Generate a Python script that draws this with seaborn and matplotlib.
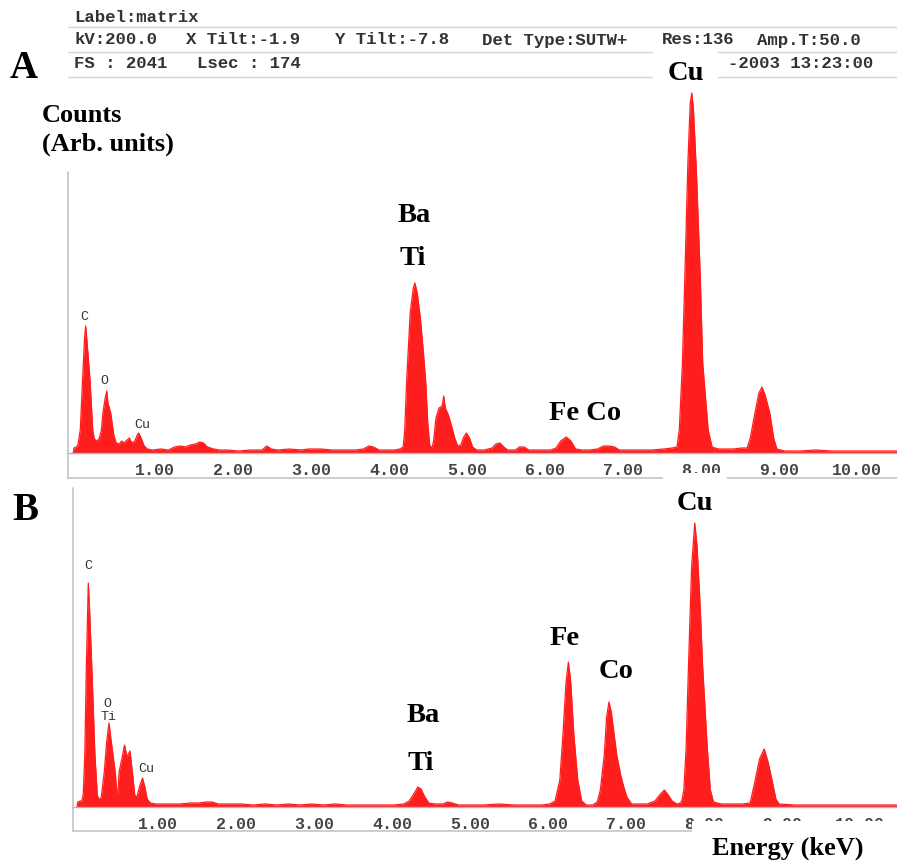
import matplotlib
matplotlib.use("Agg")
import matplotlib.pyplot as plt
import seaborn as sns
import pandas as pd
from matplotlib.transforms import ScaledTranslation
from matplotlib.lines import Line2D
from matplotlib.patches import Rectangle

# ---------------- data ----------------
# Panel A: energy (keV) and counts (arb. units)
energy_a = [0.08, 0.09, 0.12, 0.14, 0.17, 0.20, 0.225, 0.24, 0.26, 0.295, 0.33, 0.35,
            0.38, 0.41, 0.44, 0.46, 0.49, 0.51, 0.525, 0.56, 0.60, 0.63, 0.67, 0.70,
            0.73, 0.77, 0.80, 0.83, 0.87, 0.90, 0.92, 0.95, 0.99, 1.03, 1.10, 1.20,
            1.30, 1.38, 1.45, 1.52, 1.58, 1.65, 1.70, 1.75, 1.80, 1.88, 1.95, 2.05,
            2.20, 2.35, 2.50, 2.56, 2.62, 2.70, 2.85, 3.00, 3.10, 3.25, 3.40, 3.55,
            3.70, 3.80, 3.87, 3.93, 4.00, 4.10, 4.20, 4.27, 4.31, 4.33, 4.355, 4.40,
            4.44, 4.46, 4.49, 4.53, 4.57, 4.60, 4.625, 4.65, 4.68, 4.70, 4.73, 4.77,
            4.81, 4.83, 4.85, 4.89, 4.92, 4.97, 5.01, 5.05, 5.08, 5.12, 5.16, 5.20,
            5.25, 5.35, 5.45, 5.50, 5.55, 5.60, 5.65, 5.75, 5.80, 5.86, 5.92, 6.00,
            6.10, 6.20, 6.27, 6.33, 6.40, 6.46, 6.52, 6.60, 6.70, 6.80, 6.88, 6.95,
            7.02, 7.08, 7.20, 7.35, 7.50, 7.65, 7.76, 7.82, 7.85, 7.89, 7.92, 7.96,
            7.99, 8.01, 8.03, 8.07, 8.12, 8.15, 8.22, 8.27, 8.35, 8.45, 8.55, 8.65,
            8.72, 8.76, 8.82, 8.87, 8.91, 8.95, 9.01, 9.06, 9.10, 9.20, 9.40, 9.60,
            9.80, 10.00, 10.30, 10.64]
counts_a = [0, 5, 6, 8, 23, 73, 115, 127, 108, 73, 23, 14,
            12, 14, 22, 40, 55, 62, 50, 40, 18, 10, 9, 12,
            10, 13, 15, 10, 12, 18, 20, 15, 7, 4, 3, 4,
            3, 6, 7, 6, 8, 9, 11, 10, 6, 4, 3, 3,
            2, 3, 3, 7, 4, 3, 4, 3, 4, 4, 3, 3,
            3, 4, 7, 6, 3, 3, 3, 4, 6, 23, 73, 140,
            165, 170, 160, 135, 100, 70, 30, 8, 5, 12, 35, 45,
            47, 57, 45, 38, 30, 15, 7, 8, 15, 20, 15, 6,
            3, 3, 5, 9, 10, 6, 3, 3, 6, 6, 3, 3,
            3, 3, 5, 12, 16, 12, 4, 3, 3, 4, 7, 7,
            6, 3, 3, 3, 3, 4, 5, 6, 23, 90, 173, 290,
            350, 360, 345, 280, 173, 90, 23, 6, 4, 4, 4, 5,
            5, 15, 40, 60, 66, 58, 40, 15, 4, 2, 2, 3,
            2, 2, 2, 2]

# Panel B
energy_b = [0.09, 0.10, 0.13, 0.15, 0.17, 0.19, 0.21, 0.235, 0.25, 0.28, 0.32, 0.35,
            0.37, 0.40, 0.44, 0.47, 0.50, 0.53, 0.58, 0.60, 0.615, 0.63, 0.67, 0.70,
            0.73, 0.77, 0.80, 0.83, 0.86, 0.89, 0.93, 0.96, 0.99, 1.03, 1.10, 1.25,
            1.40, 1.55, 1.65, 1.75, 1.82, 1.90, 2.05, 2.20, 2.35, 2.50, 2.65, 2.80,
            2.95, 3.10, 3.25, 3.40, 3.55, 3.70, 3.85, 4.00, 4.15, 4.28, 4.35, 4.40,
            4.46, 4.50, 4.55, 4.60, 4.68, 4.78, 4.84, 4.90, 4.98, 5.10, 5.30, 5.50,
            5.70, 5.90, 6.05, 6.15, 6.22, 6.28, 6.32, 6.36, 6.39, 6.42, 6.46, 6.51,
            6.56, 6.62, 6.70, 6.76, 6.80, 6.85, 6.88, 6.91, 6.94, 6.98, 7.01, 7.06,
            7.10, 7.14, 7.20, 7.30, 7.40, 7.50, 7.56, 7.62, 7.67, 7.72, 7.78, 7.83,
            7.85, 7.87, 7.90, 7.93, 7.97, 8.01, 8.04, 8.08, 8.11, 8.17, 8.21, 8.25,
            8.35, 8.50, 8.62, 8.72, 8.78, 8.84, 8.90, 8.95, 9.00, 9.05, 9.09, 9.30,
            9.60, 9.90, 10.20, 10.60]
counts_b = [0, 5, 6, 6, 12, 52, 140, 224, 200, 140, 52, 12,
            8, 9, 35, 65, 84, 65, 35, 15, 14, 35, 50, 62,
            50, 56, 35, 12, 10, 20, 29, 20, 8, 4, 3, 3,
            3, 4, 4, 5, 5, 3, 3, 3, 2, 3, 2, 3,
            2, 3, 2, 3, 2, 2, 2, 2, 2, 3, 6, 12,
            20, 18, 10, 4, 3, 3, 5, 4, 2, 2, 2, 3,
            2, 2, 2, 3, 6, 27, 72, 125, 145, 125, 72, 27,
            6, 2, 2, 5, 17, 52, 90, 105, 95, 70, 52, 32,
            20, 10, 3, 3, 3, 6, 12, 17, 12, 6, 3, 4,
            8, 17, 60, 142, 240, 284, 260, 200, 142, 60, 17, 5,
            3, 3, 3, 4, 25, 48, 58, 45, 27, 8, 3, 2,
            2, 2, 2, 2]

tick_values = [1, 2, 3, 4, 5, 6, 7, 8, 9, 10]
tick_labels = ["1.00", "2.00", "3.00", "4.00", "5.00", "6.00", "7.00", "8.00", "9.00", "10.00"]

header_tokens = [
    ("Label:matrix", 74, 17),
    ("kV:200.0", 74, 40), ("X Tilt:-1.9", 186, 40), ("Y Tilt:-7.8", 335, 40),
    ("Det Type:SUTW+", 482, 40), ("Res:136", 662, 40), ("Amp.T:50.0", 757, 40),
    ("FS : 2041", 74, 63), ("Lsec : 174", 197, 63), ("-2003 13:23:00", 728, 63),
]

# ---------------- figure ----------------
sns.set_style("white")
plt.rcParams["font.family"] = ["Liberation Serif", "DejaVu Serif"]

W, H = 897, 865
fig = plt.figure(figsize=(W / 100, H / 100), dpi=100)
fig.patch.set_facecolor("white")


def fx(x):
    return x / W


def fy(y):
    return 1 - y / H


RED = "#ff1e1e"
FRAME = "#c4c4ce"
MONO = ["Liberation Mono", "DejaVu Sans Mono"]
SERIF = ["Liberation Serif", "DejaVu Serif"]


def make_axes(left, right, top, bottom, xlim, ylim, energy, counts):
    ax = fig.add_axes([fx(left), fy(bottom), (right - left) / W, (bottom - top) / H])
    ax.set_facecolor("none")
    df = pd.DataFrame({"Energy": energy, "Counts": counts})
    sns.lineplot(data=df, x="Energy", y="Counts", color=RED, linewidth=0.9, ax=ax)
    ax.fill_between(df["Energy"], 0, df["Counts"], color=RED, linewidth=0)
    ax.set_xlim(*xlim)
    ax.set_ylim(*ylim)
    for s in ["left", "top", "right"]:
        ax.spines[s].set_visible(False)
    ax.spines["bottom"].set_position(("data", 0))
    ax.spines["bottom"].set_color("#b4b4be")
    ax.spines["bottom"].set_linewidth(1.0)
    ax.set_yticks([])
    ax.set_xticks(tick_values)
    ax.set_xticklabels(tick_labels, fontfamily=MONO, fontweight="bold",
                       fontsize=12, color="#444444")
    ax.tick_params(axis="x", length=3, width=0.8, color="#b4b4be", pad=4, direction="out")
    ax.set_xlabel("")
    ax.set_ylabel("")
    off = ScaledTranslation(10 / 100, 0, fig.dpi_scale_trans)
    for lab in ax.get_xticklabels():
        lab.set_transform(lab.get_transform() + off)
    return ax


axA = make_axes(67, 897, 85, 478, (0, 10.641), (-25, 368), energy_a, counts_a)
axB = make_axes(72, 897, 480, 831, (0.026, 10.603), (-24, 327), energy_b, counts_b)


def hline(x0, x1, y, color=FRAME, lw=1.2):
    fig.add_artist(Line2D([fx(x0), fx(x1)], [fy(y), fy(y)], transform=fig.transFigure,
                          color=color, linewidth=lw, zorder=2))


def vline(x, y0, y1, color=FRAME, lw=1.2):
    fig.add_artist(Line2D([fx(x), fx(x)], [fy(y0), fy(y1)], transform=fig.transFigure,
                          color=color, linewidth=lw, zorder=2))


def white_box(x0, y0, x1, y1):
    fig.add_artist(Rectangle((fx(x0), fy(y1)), (x1 - x0) / W, (y1 - y0) / H,
                             transform=fig.transFigure, facecolor="white",
                             edgecolor="none", zorder=3))


# header rules and frames
hline(68, 897, 27, color="#d4d4dc", lw=1.0)
hline(68, 897, 52, color="#d4d4dc", lw=1.0)
hline(68, 897, 77, color="#d4d4dc", lw=1.0)
vline(68, 172, 478)
hline(68, 897, 478)
vline(73, 488, 831)
hline(73, 897, 831)

# white label boxes pasted over the instrument printout
white_box(653, 46, 718, 89)
white_box(663, 473, 727, 516)
white_box(692, 821, 897, 865)


def ftext(x, y, s, **kw):
    kw.setdefault("zorder", 5)
    fig.text(fx(x), fy(y), s, **kw)


# header tokens
for s, x, y in header_tokens:
    ftext(x, y, s, ha="left", va="center", fontfamily=MONO, fontweight="bold",
          fontsize=12.5, color="#333333")

# panel letters and axis labels
big = dict(fontfamily=SERIF, fontweight="bold", color="black")
ftext(24, 78, "A", ha="center", va="baseline", fontsize=28, **big)
ftext(25, 520, "B", ha="center", va="baseline", fontsize=28, **big)
ftext(42, 122, "Counts", ha="left", va="baseline", fontsize=19, **big)
ftext(42, 151, "(Arb. units)", ha="left", va="baseline", fontsize=19, **big)
ftext(788, 855, "Energy (keV)", ha="center", va="baseline", fontsize=19, **big)

# element labels (bold serif)
for s, x, y in [("Cu", 686, 80), ("Ba", 414, 222), ("Ti", 413, 265), ("Fe Co", 585, 420),
                ("Cu", 695, 510), ("Fe", 565, 645), ("Co", 616, 678),
                ("Ba", 423, 722), ("Ti", 421, 770)]:
    ftext(x, y, s, ha="center", va="baseline", fontsize=20.5, **big)

# small software labels (monospace)
for s, x, y in [("C", 84, 317), ("O", 104, 381), ("Cu", 142, 425),
                ("C", 88, 566), ("O", 107, 704), ("Ti", 108, 717), ("Cu", 146, 769)]:
    ftext(x, y, s, ha="center", va="center", fontfamily=MONO, fontsize=9.5,
          color="#333333")

fig.savefig("out.png", dpi=100, facecolor="white")
